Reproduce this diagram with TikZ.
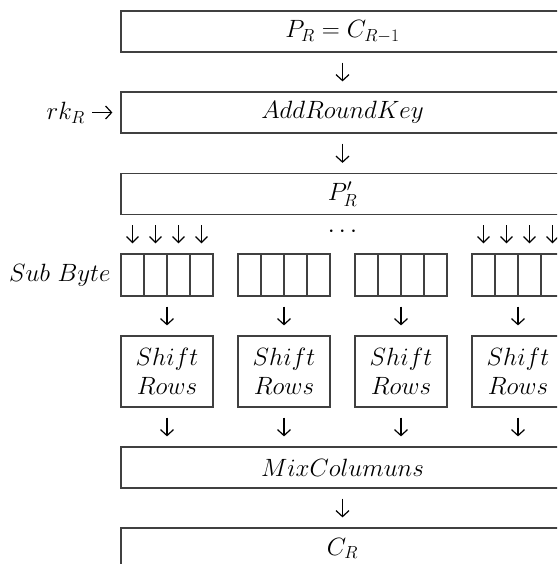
\RequirePackage{fix-cm}
\documentclass[tikz,border=0pt]{standalone}
\usetikzlibrary{arrows.meta}
\tikzset{
  box/.style={draw=black!75, line width=1.2pt, minimum height=41pt, inner sep=0pt},
  wide/.style={box, minimum width=443pt},
  flow/.style={-{Straight Barb[length=6pt,width=13pt]}, line width=1.2pt, shorten <=10pt, shorten >=10pt},
}
\begin{document}
\begin{tikzpicture}[x=1pt, y=-1pt, font=\fontsize{25}{29}\selectfont]
  \useasboundingbox (0,0) rectangle (557,564);
  \clip (0,0) rectangle (557,564);
  \node[wide] (pin) at (342.5,31.5) {$P_R = C_{R-1}$};
  \node[wide] (ark) at (342.5,112.5) {$AddRoundKey$};
  \node[wide] (pr) at (342.5,194) {$P'_R$};
  \node[wide] (mix) at (342.5,467.5) {$MixColumuns$};
  \node[wide] (cr) at (342.5,548.5) {$C_R$};
  \node[anchor=east, inner sep=0pt] (rk) at (85,112.5) {$rk_R$};
  \node[anchor=east] (sub) at (114,275) {$Sub\ Byte$};
  \node (dots) at (342.5,232) {$\cdots$};
  \foreach \g in {0,...,3} {
    \foreach \c in {0,...,3}
      \node[box, minimum width=23pt, minimum height=42pt] (sb\g\c) at (132.5+117*\g+23*\c,275) {};
    \node[box, minimum width=92pt, minimum height=71pt, align=center] (sr\g) at (167+117*\g,371.5) {$Shift$\\$Rows$};
    \draw[flow] (sr\g.north |- sb\g0.south) -- (sr\g.north);
    \draw[flow] (sr\g.south) -- (sr\g.south |- mix.north);
  }
  \foreach \g in {0,3}
    \foreach \c in {0,...,3}
      \draw[flow, -{Straight Barb[length=6pt,width=12pt]}] (sb\g\c.north |- pr.south) -- (sb\g\c.north);
  \draw[flow] (pin) -- (ark);
  \draw[flow] (ark) -- (pr);
  \draw[flow] (mix) -- (cr);
  \draw[flow, shorten <=7pt, shorten >=8pt] (rk.east) -- (rk.east -| ark.west);
\end{tikzpicture}
\end{document}
